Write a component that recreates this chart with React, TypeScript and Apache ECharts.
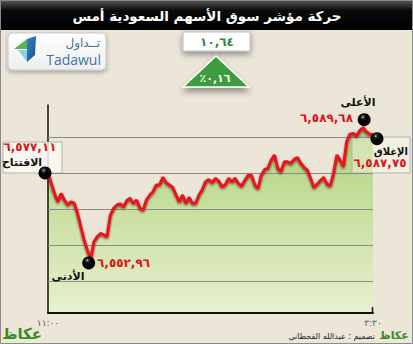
import React, { useEffect, useRef } from "react";
import * as echarts from "echarts";

const timeLabels = ["١١:٠٠", "٣:٣٠"];
const indexValues = [
  6577.11, 6574.2, 6571.4, 6569.1, 6571.4, 6569.6, 6568.2, 6569.1, 6568.7, 6565.9,
  6562.2, 6558.5, 6555.7, 6552.96, 6558.0, 6559.4, 6560.3, 6559.9, 6559.4, 6565.4,
  6567.3, 6568.2, 6568.5, 6567.7, 6569.4, 6570.1, 6568.7, 6569.6, 6567.3, 6566.8,
  6569.6, 6571.0, 6571.9, 6573.8, 6573.8, 6575.9, 6574.4, 6573.8, 6573.1, 6571.0,
  6569.1, 6571.0, 6568.7, 6570.3, 6568.7, 6568.7, 6571.0, 6572.4, 6574.7, 6575.3,
  6574.4, 6575.6, 6574.9, 6573.3, 6573.8, 6575.6, 6574.7, 6575.6, 6574.2, 6573.5,
  6575.1, 6576.5, 6576.5, 6573.8, 6572.8, 6576.5, 6578.1, 6578.4, 6580.7, 6582.1,
  6578.4, 6577.5, 6580.2, 6580.2, 6579.8, 6580.9, 6581.4, 6579.8, 6578.7, 6577.9,
  6575.6, 6573.1, 6574.0, 6575.0, 6575.9, 6574.0, 6573.5, 6577.0, 6582.1, 6580.7,
  6578.9, 6585.8, 6587.9, 6588.1, 6587.4, 6588.9, 6589.68, 6588.6, 6587.9, 6587.75,
];
const gridValues = [6547, 6557, 6567, 6577, 6587];
const markerNames = ["الافتتاح", "الأدنى", "الأعلى", "الإغلاق"];
const titleText = "حركة مؤشر سوق الأسهم السعودية أمس";
const creditText = "تصميم : عبدالله القحطاني";

const AR = "'DejaVu Sans', sans-serif";

function toArabicDigits(s: string): string {
  return s.replace(/[0-9]/g, (d) => "٠١٢٣٤٥٦٧٨٩"[Number(d)]);
}
function fmt(v: number): string {
  const [i, f] = v.toFixed(2).split(".");
  const withSep = i.replace(/\B(?=(\d{3})+(?!\d))/g, ",");
  return toArabicDigits(withSep + "," + f);
}

export default function App() {
  const ref = useRef<HTMLDivElement>(null);
  useEffect(() => {
    if (!ref.current) return;
    const chart = echarts.init(ref.current, null, { renderer: "svg" });
    const n = indexValues.length;
    const categories = indexValues.map((_, i) => String(i));
    const openIdx = 0;
    const closeIdx = n - 1;
    const lowVal = Math.min(...indexValues);
    const highVal = Math.max(...indexValues);
    const lowIdx = indexValues.indexOf(lowVal);
    const highIdx = indexValues.indexOf(highVal);
    const openVal = indexValues[openIdx];
    const closeVal = indexValues[closeIdx];
    const change = closeVal - openVal;
    const pct = (change / openVal) * 100;
    const changeText = toArabicDigits(change.toFixed(2).replace(".", ","));
    const pctText = "٪" + toArabicDigits(pct.toFixed(2).replace(".", ","));

    const ball = new echarts.graphic.RadialGradient(0.4, 0.3, 0.8, [
      { offset: 0, color: "#e8e8e8" },
      { offset: 0.12, color: "#3a3a3a" },
      { offset: 0.32, color: "#050505" },
      { offset: 1, color: "#000000" },
    ]);

    const redText = { fill: "#e0141c", fontFamily: AR, fontWeight: "bold", fontSize: 12 };
    const blackText = { fill: "#111", fontFamily: AR, fontWeight: "bold", fontSize: 11 };

    chart.setOption({
      animation: false,
      backgroundColor: "#ece6d9",
      grid: { left: 48, right: 40, top: 105, bottom: 31 },
      xAxis: {
        type: "category",
        data: categories,
        boundaryGap: false,
        axisLine: { show: true, lineStyle: { color: "#111", width: 2 } },
        axisTick: { show: false },
        axisLabel: {
          interval: (i: number) => i === 0 || i === n - 1,
          showMaxLabel: true,
          formatter: (_: string, i: number) => (i === 0 ? timeLabels[0] : timeLabels[1]),
          fontSize: 9,
          color: "#555",
          fontFamily: AR,
          margin: 5,
        },
        splitLine: { show: false },
        z: 3,
      },
      yAxis: {
        type: "value",
        min: 6538.2,
        max: 6596,
        axisLine: { show: true, lineStyle: { color: "#111", width: 1.5 } },
        axisTick: { show: false },
        axisLabel: { show: false },
        splitLine: { show: false },
        z: 3,
      },
      series: [
        {
          type: "line",
          data: indexValues,
          showSymbol: false,
          lineStyle: { width: 0 },
          areaStyle: {
            opacity: 1,
            color: new echarts.graphic.LinearGradient(0, 120, 0, 313, [
              { offset: 0, color: "#a5ca72" },
              { offset: 0.35, color: "#c2dc96" },
              { offset: 1, color: "#e9efd0" },
            ], true),
          },
          z: 1,
          silent: true,
        },
        {
          type: "line",
          data: [],
          z: 2,
          silent: true,
          markLine: {
            silent: true,
            symbol: "none",
            label: { show: false },
            lineStyle: { color: "#8c8c86", width: 1, type: "solid" },
            data: gridValues.map((v) => ({ yAxis: v })),
          },
        },
        {
          type: "line",
          data: indexValues,
          showSymbol: false,
          lineStyle: {
            color: "#e8141c",
            width: 3,
            shadowColor: "rgba(70,0,0,0.6)",
            shadowBlur: 2,
            shadowOffsetY: 1.5,
          },
          z: 5,
          silent: true,
        },
        {
          type: "scatter",
          symbolSize: 13,
          itemStyle: { color: ball, opacity: 1 },
          z: 6,
          silent: true,
          data: [
            { value: [openIdx, openVal], symbolOffset: [-3, 0] },
            { value: [lowIdx, lowVal], symbolOffset: [-2, 3] },
            { value: [highIdx, highVal], symbolOffset: [1, -8] },
            { value: [closeIdx, closeVal], symbolOffset: [4, 4] },
          ],
        },
      ],
      graphic: [
        {
          type: "rect",
          z: 10,
          shape: { x: 0, y: 0, width: 413, height: 30 },
          style: {
            fill: new echarts.graphic.LinearGradient(0, 0, 0, 1, [
              { offset: 0, color: "#5a5a5a" },
              { offset: 0.35, color: "#0a0a0a" },
              { offset: 1, color: "#000000" },
            ]),
          },
        },
        {
          type: "text",
          z: 11,
          x: 207,
          y: 16,
          style: {
            text: titleText,
            fill: "#ffffff",
            fontFamily: AR,
            fontWeight: "bold",
            fontSize: 13.5,
            align: "center",
            verticalAlign: "middle",
          },
        },
        {
          type: "rect",
          z: 10,
          shape: { x: 8, y: 33, width: 98, height: 37, r: 4 },
          style: {
            fill: new echarts.graphic.LinearGradient(0, 0, 0, 1, [
              { offset: 0, color: "#ffffff" },
              { offset: 1, color: "#eeeeee" },
            ]),
            stroke: "#c8c8c8",
            lineWidth: 1,
            shadowColor: "rgba(0,0,0,0.3)",
            shadowBlur: 4,
            shadowOffsetY: 2,
          },
        },
        {
          type: "polygon",
          z: 11,
          shape: { points: [[14, 49], [27, 39], [27, 49]] },
          style: { fill: "#5cb548" },
        },
        {
          type: "polygon",
          z: 11,
          shape: { points: [[27, 39], [36, 36], [35, 55], [27, 62]] },
          style: {
            fill: new echarts.graphic.LinearGradient(0, 0, 1, 1, [
              { offset: 0, color: "#2e86c8" },
              { offset: 1, color: "#1d4f86" },
            ]),
          },
        },
        {
          type: "polygon",
          z: 11,
          shape: { points: [[18, 50], [27, 50], [27, 62]] },
          style: { fill: "#8fd0e8" },
        },
        {
          type: "text",
          z: 11,
          x: 100,
          y: 43,
          style: { text: "تــداول", fill: "#3f74a0", fontFamily: AR, fontSize: 12, align: "right", verticalAlign: "middle" },
        },
        {
          type: "text",
          z: 11,
          x: 101,
          y: 59,
          style: { text: "Tadawul", fill: "#3f74a0", fontFamily: "'Open Sans', sans-serif", fontSize: 14, align: "right", verticalAlign: "middle" },
        },
        {
          type: "rect",
          z: 10,
          shape: { x: 183, y: 32, width: 67, height: 19 },
          style: {
            fill: "#ffffff",
            stroke: "#bbbbbb",
            lineWidth: 1,
            shadowColor: "rgba(0,0,0,0.4)",
            shadowBlur: 6,
            shadowOffsetY: 3,
          },
        },
        {
          type: "text",
          z: 11,
          x: 217,
          y: 42,
          style: { text: changeText, fill: "#2f8a3a", fontFamily: AR, fontWeight: "bold", fontSize: 12, align: "center", verticalAlign: "middle" },
        },
        {
          type: "polygon",
          z: 10,
          shape: { points: [[216, 56], [183, 87], [249, 87]] },
          style: {
            fill: "#3c9c40",
            stroke: "#ffffff",
            lineWidth: 1.5,
            shadowColor: "rgba(0,0,0,0.4)",
            shadowBlur: 6,
            shadowOffsetY: 4,
          },
        },
        {
          type: "text",
          z: 11,
          x: 215,
          y: 78,
          style: { text: pctText, fill: "#ffffff", fontFamily: AR, fontWeight: "bold", fontSize: 11, align: "center", verticalAlign: "middle" },
        },
        {
          type: "rect",
          z: 4,
          shape: { x: 3, y: 142, width: 59, height: 31 },
          style: { fill: "rgba(250,248,242,0.85)", stroke: "#b2b2aa", lineWidth: 1 },
        },
        {
          type: "text",
          z: 7,
          x: 30,
          y: 147,
          style: { ...redText, text: fmt(openVal), align: "center", verticalAlign: "middle" },
        },
        {
          type: "text",
          z: 7,
          x: 22,
          y: 162,
          style: { ...blackText, text: markerNames[0], align: "center", verticalAlign: "middle" },
        },
        {
          type: "text",
          z: 7,
          x: 97,
          y: 263,
          style: { ...redText, text: fmt(lowVal), align: "left", verticalAlign: "middle" },
        },
        {
          type: "text",
          z: 7,
          x: 68,
          y: 276,
          style: { ...blackText, text: markerNames[1], align: "center", verticalAlign: "middle" },
        },
        {
          type: "text",
          z: 7,
          x: 358,
          y: 102,
          style: { ...blackText, text: markerNames[2], align: "center", verticalAlign: "middle" },
        },
        {
          type: "text",
          z: 7,
          x: 353,
          y: 118,
          style: { ...redText, text: fmt(highVal), align: "right", verticalAlign: "middle" },
        },
        {
          type: "rect",
          z: 4,
          shape: { x: 352, y: 137, width: 58, height: 36 },
          style: { fill: "rgba(250,250,240,0.45)", stroke: "#b2b2aa", lineWidth: 1 },
        },
        {
          type: "text",
          z: 7,
          x: 408,
          y: 151,
          style: { ...blackText, fontSize: 10, text: markerNames[3], align: "right", verticalAlign: "middle" },
        },
        {
          type: "text",
          z: 7,
          x: 380,
          y: 163,
          style: { ...redText, text: fmt(closeVal), align: "center", verticalAlign: "middle" },
        },
        {
          type: "line",
          z: 7,
          shape: { x1: 372.5, y1: 307, x2: 372.5, y2: 313 },
          style: { stroke: "#111", lineWidth: 1.5 },
        },
        {
          type: "text",
          z: 11,
          x: 22,
          y: 334,
          style: { text: "عكاظ", fill: "#3c8a26", fontFamily: AR, fontWeight: "bold", fontSize: 15, align: "center", verticalAlign: "middle" },
        },
        {
          type: "text",
          z: 11,
          x: 394,
          y: 335,
          style: { text: "عكاظ", fill: "#3c8a26", fontFamily: AR, fontWeight: "bold", fontSize: 11, align: "center", verticalAlign: "middle" },
        },
        {
          type: "text",
          z: 11,
          x: 375,
          y: 336,
          style: { text: creditText, fill: "#222", fontFamily: AR, fontSize: 8, align: "right", verticalAlign: "middle" },
        },
        {
          type: "rect",
          z: 20,
          shape: { x: 0.5, y: 0.5, width: 412, height: 343 },
          style: { fill: "none", stroke: "#8a8a8a", lineWidth: 1 },
        },
      ],
    });
    return () => chart.dispose();
  }, []);
  return (
    <div
      ref={ref}
      style={{ position: "fixed", left: 0, top: 0, width: 413, height: 344 }}
    />
  );
}
